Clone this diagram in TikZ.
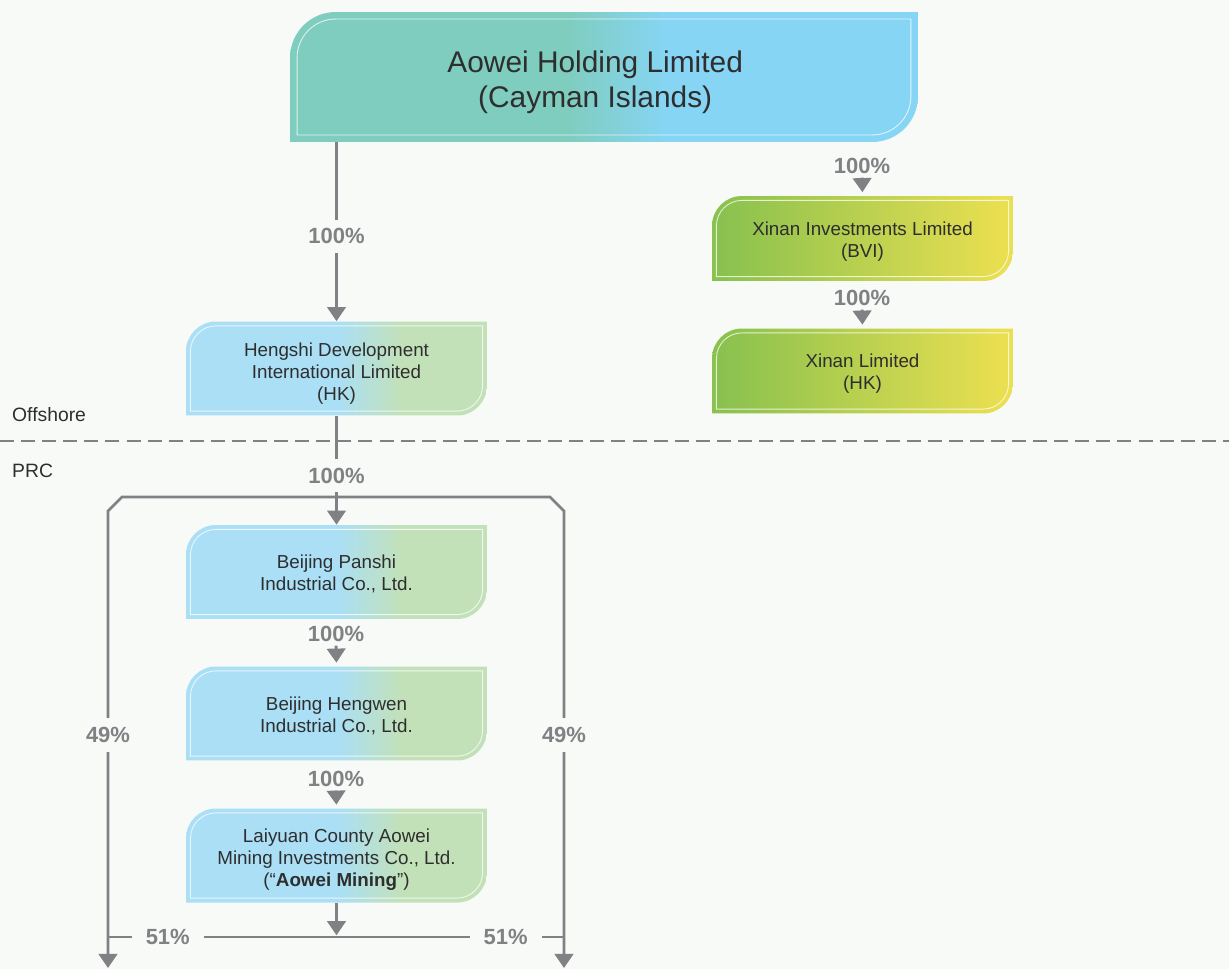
\documentclass[tikz,border=0pt]{standalone}
\usepackage{fontspec}
\setmainfont{Liberation Sans}
\usepackage{tikz}
\usetikzlibrary{arrows.meta}
\usetikzlibrary{calc}

\definecolor{bg}{HTML}{F7FAF6}
\definecolor{ink}{HTML}{2E2E2E}
\definecolor{wire}{HTML}{808085}
\definecolor{cTeal}{HTML}{7FCDBE}
\definecolor{cSky}{HTML}{86D5F4}
\definecolor{cBlue}{HTML}{AADFF6}
\definecolor{cMint}{HTML}{C3E1B8}
\definecolor{cLeaf}{HTML}{8BC24F}
\definecolor{cLemon}{HTML}{E9DF50}

\pgfdeclarehorizontalshading{tealsky}{100bp}{color(0bp)=(cTeal); color(47bp)=(cTeal); color(55bp)=(cSky); color(100bp)=(cSky)}
\pgfdeclarehorizontalshading{skymint}{100bp}{color(0bp)=(cBlue); color(50bp)=(cBlue); color(61bp)=(cMint); color(100bp)=(cMint)}
\pgfdeclarehorizontalshading{leaflemon}{100bp}{color(0bp)=(cLeaf); color(27bp)=(cLeaf); color(73bp)=(cLemon); color(100bp)=(cLemon)}

% pushes the first line of a box text down a little
\newcommand{\topgap}[1]{\rule{0pt}{#1}}

\tikzset{
  orgbox/.style n args={3}{minimum width=6.02cm, minimum height=1.88cm, inner sep=0pt,
    align=center, text=ink, font=\fontsize{10.7}{12.5}\selectfont,
    path picture={
      \shade[shading=#1] (path picture bounding box.south west)
        -- ([yshift=-#2]path picture bounding box.north west)
        arc[start angle=180, end angle=90, radius=#2]
        -- (path picture bounding box.north east)
        -- ([yshift=#2]path picture bounding box.south east)
        arc[start angle=0, end angle=-90, radius=#2] -- cycle;
      \draw[white, opacity=0.75, line width=0.5pt] ([shift={(#3,#3)}]path picture bounding box.south west)
        -- ([shift={(#3,-#2)}]path picture bounding box.north west)
        arc[start angle=180, end angle=90, radius={#2-#3}]
        -- ([shift={(-#3,-#3)}]path picture bounding box.north east)
        -- ([shift={(-#3,#2)}]path picture bounding box.south east)
        arc[start angle=0, end angle=-90, radius={#2-#3}] -- cycle;
    }},
  link/.style={draw=wire, line width=1.6pt},
  tip/.style={-{Triangle[width=10.5pt,length=8pt]}},
  pct/.style={text=wire, font=\bfseries\fontsize{12.5}{12.5}\selectfont, inner sep=0pt},
  pctv/.style={pct, fill=bg, inner xsep=2pt, inner ysep=5pt},
  pcth/.style={pct, fill=bg, inner xsep=8pt, inner ysep=2pt},
  zone/.style={text=ink, font=\fontsize{11}{13}\selectfont},
  border/.style={draw=wire, line width=1.4pt, dash pattern=on 8pt off 4pt}
}

\begin{document}
\begin{tikzpicture}[x = 0.02cm, y = -0.02cm]
	\fill[bg] (0,0) rectangle (1229,969);
	\useasboundingbox (0,0) rectangle (1229,969);
	
	% offshore / PRC split
	\coordinate (dl) at (0,441);
	\coordinate (dr) at (1229,441);
	\draw[border] (dl) -- (dr);
	\node[anchor = west, zone] (offshore) at (6,415) {Offshore};
	\node[anchor = west, zone] (prc) at (6,471) {PRC};
	
	\node[orgbox = {tealsky}{26pt}{4pt}, minimum width = 12.56cm, minimum height = 2.6cm,
	  font = \fontsize{17}{20}\selectfont] (aowei) at (604,77)
	  {\topgap{18.6pt}Aowei Holding Limited\hspace*{10pt}\\(Cayman Islands)\hspace*{10pt}};
	
	\node[orgbox = {leaflemon}{17pt}{2.5pt}, minimum height = 1.7cm] (xinvest) at (862.5,238.5) {\topgap{11pt}Xinan Investments Limited\\(BVI)};
	\node[orgbox = {leaflemon}{17pt}{2.5pt}, minimum height = 1.7cm] (xinhk) at (862.5,371) {\topgap{11pt}Xinan Limited\\(HK)};
	
	\node[orgbox = {skymint}{17pt}{2.5pt}] (hengshi) at (336.5,368.5) {\topgap{14pt}Hengshi Development\\International Limited\\(HK)};
	\node[orgbox = {skymint}{17pt}{2.5pt}] (panshi) at (336.5,572) {\topgap{9.6pt}Beijing Panshi\\Industrial Co., Ltd.};
	\node[orgbox = {skymint}{17pt}{2.5pt}] (hengwen) at (336.5,713.5) {\topgap{10pt}Beijing Hengwen\\Industrial Co., Ltd.};
	\node[orgbox = {skymint}{17pt}{2.5pt}] (laiyuan) at (336.5,855.5) {\topgap{13pt}Laiyuan County Aowei\\Mining Investments Co., Ltd.\\(“\textbf{Aowei Mining}”)};
	
	% short arrows under a label
	\node[pct] (px1) at (862,166) {100\%};
	\node[pct] (px2) at (862,298) {100\%};
	\node[pct] (pb1) at (336,634) {100\%};
	\node[pct] (pb2) at (336,779) {100\%};
	\draw[link, tip, shorten <= 2pt, shorten >= 2pt] (px1.south) -- (xinvest.north);
	\draw[link, tip, shorten <= 2pt, shorten >= 2pt] (px2.south) -- (xinhk.north);
	\draw[link, tip, shorten <= 2pt, shorten >= 2pt] (pb1.south) -- (hengwen.north);
	\draw[link, tip, shorten <= 2pt, shorten >= 2pt] (pb2.south) -- (laiyuan.north);
	
	\draw[link, tip] (aowei.south -| hengshi) -- node[pctv, pos = 0.525] {100\%} (hengshi.north);
	\draw[link, tip] (hengshi.south) -- node[pctv, pos = 0.55] {100\%} (panshi.north);
	
	% 49% branches
	\coordinate (lknee) at (108,497);
	\coordinate (rknee) at (564,497);
	\coordinate (lout) at (108,968);
	\coordinate (rout) at (564,968);
	\draw[link, tip] (hengshi.south |- lknee) -- ($(lknee)+(14,0)$) -- ($(lknee)+(0,14)$)
	  -- node[pctv, pos = 0.49] {49\%} (lout);
	\draw[link, tip] (hengshi.south |- rknee) -- ($(rknee)+(-14,0)$) -- ($(rknee)+(0,14)$)
	  -- node[pctv, pos = 0.49] {49\%} (rout);
	
	% 51% bar
	\coordinate (bbar) at (336,937);
	\draw[link, tip, shorten >= 1pt] (laiyuan.south) -- (laiyuan.south |- bbar);
	\draw[link] (lout |- bbar) -- node[pcth, pos = 0.131] {51\%} node[pcth, pos = 0.872] {51\%} (rout |- bbar);
\end{tikzpicture}
\end{document}
